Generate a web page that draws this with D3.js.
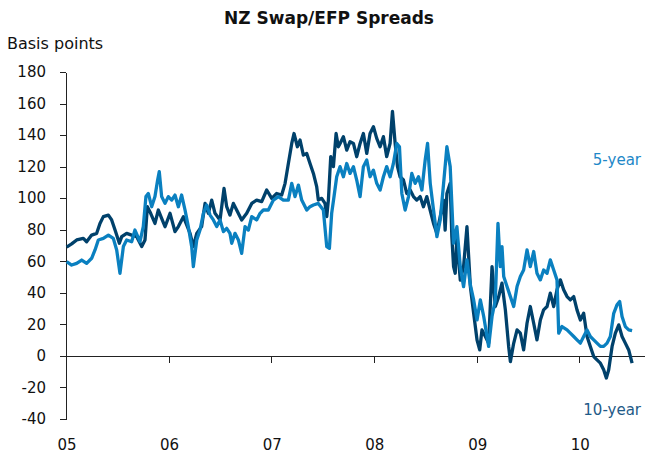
<!DOCTYPE html>
<html>
<head>
<meta charset="utf-8">
<script src="https://cdn.jsdelivr.net/npm/d3@7"></script>
<style>
    body { margin: 0; background: #fff; }
    text { font-family: "DejaVu Sans", sans-serif; fill: #111; }
    .axis path, .axis line { stroke: #222; shape-rendering: crispEdges; }
</style>
</head>
<body>
<script>
// decimal year, basis points
var tenYear = [
    [2005.006, 69], [2005.055, 71], [2005.104, 73.5], [2005.169, 74.5], [2005.201, 72.4], [2005.250, 76.6],
    [2005.299, 77.7], [2005.331, 84], [2005.364, 88.3], [2005.413, 89.3], [2005.445, 86.2], [2005.478, 79.8],
    [2005.520, 71.4], [2005.543, 75.6], [2005.591, 77.7], [2005.640, 76.6], [2005.689, 75.6], [2005.738, 69.3],
    [2005.770, 73.5], [2005.793, 94.6], [2005.825, 90.4], [2005.867, 84], [2005.900, 92.5], [2005.932, 87.2],
    [2005.965, 81.9], [2006.014, 90.4], [2006.062, 78.8], [2006.095, 82], [2006.144, 88.3], [2006.209, 77.7],
    [2006.241, 69.3], [2006.274, 77.7], [2006.322, 82], [2006.355, 96.7], [2006.387, 90.4], [2006.420, 98.8],
    [2006.452, 90.4], [2006.501, 86.2], [2006.540, 106.2], [2006.566, 94.6], [2006.598, 89.3], [2006.631, 96.7],
    [2006.663, 92.5], [2006.712, 86.2], [2006.761, 90.4], [2006.810, 96.7], [2006.858, 98.8], [2006.907, 97.8],
    [2006.956, 105.2], [2007.005, 99.9], [2007.053, 103], [2007.102, 102], [2007.135, 109.4], [2007.167, 122],
    [2007.200, 134.7], [2007.222, 141], [2007.255, 132.6], [2007.281, 136.9], [2007.313, 127.3], [2007.346, 128.4],
    [2007.378, 122], [2007.411, 115.7], [2007.443, 107.3], [2007.459, 98.8], [2007.492, 99.9], [2007.524, 96.7],
    [2007.541, 88.3], [2007.557, 98.8], [2007.580, 126.3], [2007.606, 120], [2007.632, 141], [2007.654, 132.6],
    [2007.671, 134.7], [2007.703, 139], [2007.736, 130.5], [2007.768, 135.8], [2007.801, 134.7], [2007.833, 126.3],
    [2007.866, 134.7], [2007.898, 141], [2007.931, 128.4], [2007.963, 141], [2007.996, 145.3], [2008.028, 137.9],
    [2008.061, 132.6], [2008.093, 139], [2008.125, 126.3], [2008.158, 134.7], [2008.181, 155], [2008.207, 134.7],
    [2008.230, 120], [2008.255, 113.6], [2008.288, 111.5], [2008.320, 103], [2008.353, 105.2], [2008.385, 101],
    [2008.417, 98.8], [2008.450, 101], [2008.482, 94.6], [2008.515, 101], [2008.547, 92.5], [2008.580, 84],
    [2008.612, 77.7], [2008.645, 88.3], [2008.677, 98.8], [2008.693, 79.8], [2008.710, 103], [2008.742, 109.4],
    [2008.758, 75.6], [2008.775, 56.6], [2008.791, 52.4], [2008.807, 75.6], [2008.840, 48.1], [2008.872, 56.6],
    [2008.905, 81.9], [2008.938, 44], [2008.970, 27], [2009.003, 10], [2009.029, 3.8], [2009.051, 16.5],
    [2009.084, 12.3], [2009.116, 8], [2009.149, 56.6], [2009.181, 31.3], [2009.214, 37.6], [2009.246, 46.1],
    [2009.279, 29.2], [2009.311, 6], [2009.328, -3.6], [2009.360, 8], [2009.393, 16.5], [2009.425, 14.4],
    [2009.457, 3.8], [2009.490, 20.7], [2009.522, 31.3], [2009.555, 20.7], [2009.587, 10.2], [2009.620, 22.8],
    [2009.652, 29.2], [2009.685, 31.3], [2009.717, 39.8], [2009.750, 31.3], [2009.782, 41.9], [2009.815, 48.2],
    [2009.847, 41.9], [2009.880, 37.6], [2009.912, 35.5], [2009.945, 37.6], [2009.977, 29.2], [2010.010, 22.8],
    [2010.042, 27], [2010.075, 12.3], [2010.107, 6], [2010.140, -0.4], [2010.172, -2.5], [2010.205, -4.6],
    [2010.237, -8.8], [2010.263, -14], [2010.286, -8.8], [2010.319, 6], [2010.351, 14.4], [2010.384, 19.7],
    [2010.416, 12.3], [2010.448, 8.1], [2010.481, 3.8], [2010.514, -4.6]
];

var fiveYear = [
    [2005.006, 59.8], [2005.055, 57.6], [2005.104, 58.7], [2005.153, 60.8], [2005.201, 58.7], [2005.250, 61.9],
    [2005.283, 67.2], [2005.315, 73.5], [2005.364, 74.5], [2005.413, 76.6], [2005.461, 74.5], [2005.494, 67.2],
    [2005.526, 52.4], [2005.559, 69.3], [2005.591, 73.5], [2005.640, 72.4], [2005.672, 79.8], [2005.721, 72.4],
    [2005.753, 82], [2005.779, 101], [2005.802, 103], [2005.835, 94.6], [2005.867, 101], [2005.893, 111.5],
    [2005.909, 116.8], [2005.932, 101], [2005.965, 96.7], [2005.997, 101], [2006.030, 98.8], [2006.062, 102],
    [2006.095, 94.6], [2006.127, 102], [2006.160, 92.5], [2006.192, 82], [2006.225, 69.3], [2006.241, 56.6],
    [2006.274, 73.5], [2006.306, 79.8], [2006.339, 90.4], [2006.371, 95.7], [2006.404, 89.3], [2006.436, 86.2],
    [2006.469, 82], [2006.501, 86.2], [2006.534, 78.8], [2006.566, 80.9], [2006.598, 77.7], [2006.615, 71.4],
    [2006.647, 77.7], [2006.680, 73.5], [2006.712, 65], [2006.745, 82], [2006.777, 79.8], [2006.810, 88.3],
    [2006.858, 86.2], [2006.891, 90.4], [2006.923, 92.5], [2006.972, 92.5], [2007.021, 98.8], [2007.070, 101],
    [2007.118, 98.8], [2007.167, 98.8], [2007.200, 109.4], [2007.232, 101], [2007.265, 108.3], [2007.297, 98.8],
    [2007.346, 92.5], [2007.378, 94.6], [2007.411, 95.7], [2007.459, 96.7], [2007.508, 92.5], [2007.541, 69.3],
    [2007.567, 68.2], [2007.589, 90.4], [2007.612, 101], [2007.638, 113.6], [2007.671, 120], [2007.703, 113.6],
    [2007.736, 122], [2007.768, 115.7], [2007.801, 120], [2007.833, 111.5], [2007.866, 101], [2007.898, 120],
    [2007.931, 124.2], [2007.963, 113.6], [2007.996, 117.8], [2008.028, 109.4], [2008.061, 105.2], [2008.093, 113.6],
    [2008.125, 120], [2008.158, 113.6], [2008.190, 122], [2008.223, 134.7], [2008.249, 132.6], [2008.272, 103],
    [2008.304, 92.5], [2008.337, 101], [2008.369, 115.7], [2008.402, 109.4], [2008.434, 113.6], [2008.467, 105.2],
    [2008.499, 124.2], [2008.522, 134.7], [2008.548, 109.4], [2008.580, 92.5], [2008.613, 75.6], [2008.645, 86.2],
    [2008.678, 109.4], [2008.710, 132.6], [2008.742, 120], [2008.775, 71.4], [2008.807, 81.9], [2008.840, 56.6],
    [2008.872, 43.9], [2008.905, 60.8], [2008.938, 45], [2008.970, 35.5], [2009.003, 22.8], [2009.035, 35.5],
    [2009.068, 25], [2009.116, 6], [2009.149, 25], [2009.181, 35.5], [2009.207, 84], [2009.230, 56.6],
    [2009.246, 69.3], [2009.263, 50.3], [2009.295, 44], [2009.328, 37.6], [2009.360, 31.3], [2009.393, 44],
    [2009.425, 50.3], [2009.457, 54.5], [2009.490, 67.2], [2009.522, 56.6], [2009.555, 66.2], [2009.587, 52.4],
    [2009.620, 48.2], [2009.652, 54.5], [2009.685, 52.4], [2009.717, 60.9], [2009.750, 54.5], [2009.782, 48.2],
    [2009.799, 14.4], [2009.831, 18.6], [2009.880, 16.5], [2009.912, 14.4], [2009.945, 12.3], [2009.977, 10.2],
    [2010.010, 8.1], [2010.042, 12.3], [2010.075, 16.5], [2010.107, 12.3], [2010.140, 10.2], [2010.172, 8.1],
    [2010.205, 6], [2010.237, 6], [2010.270, 8.1], [2010.302, 12.3], [2010.335, 27], [2010.367, 32.4],
    [2010.393, 34.5], [2010.416, 25], [2010.448, 18.6], [2010.481, 16.5], [2010.514, 16]
];

var yearTicks = [2005, 2006, 2007, 2008, 2009, 2010];
var yTicks = [-40, -20, 0, 20, 40, 60, 80, 100, 120, 140, 160, 180];

var w = 648, h = 455;

function toDate(t) {
    var yr = Math.floor(t);
    var start = new Date(yr, 0, 1), end = new Date(yr + 1, 0, 1);
    return new Date(+start + (t - yr) * (end - start));
}

var svg = d3.select("body").append("svg")
    .attr("width", w)
    .attr("height", h);

var x = d3.scaleTime().domain([toDate(2005), toDate(2010.63)]).range([66, 644]);
var y = d3.scaleLinear().domain([-40, 180]).range([419, 72]);

//Title and unit
svg.append("text")
    .attr("x", 329).attr("y", 24)
    .attr("text-anchor", "middle")
    .style("font-size", "17px").style("font-weight", "bold")
    .text("NZ Swap/EFP Spreads");

svg.append("text")
    .attr("x", 7).attr("y", 49)
    .style("font-size", "16px")
    .text("Basis points");

//Y axis (plain hyphen for negatives, as in the source)
var yAxis = d3.axisLeft(y).tickValues(yTicks).tickSize(6).tickSizeOuter(0).tickPadding(14)
    .tickFormat(function(d) { return String(d); });
var yg = svg.append("g").attr("class", "axis")
    .attr("transform", "translate(66,0)")
    .call(yAxis);
yg.selectAll("text").style("font-size", "15px").attr("fill", "#111");

//Zero line with year ticks
var zeroAxis = d3.axisBottom(x)
    .tickValues(yearTicks.slice(1).map(toDate))
    .tickSize(7).tickSizeOuter(0).tickFormat("");
svg.append("g").attr("class", "axis")
    .attr("transform", "translate(0," + y(0) + ")")
    .call(zeroAxis);

//Year labels along the bottom
svg.append("g")
    .selectAll("text")
    .data(yearTicks)
    .enter()
    .append("text")
    .attr("x", function(d) { return x(toDate(d)) + 1; })
    .attr("y", 450)
    .attr("text-anchor", "middle")
    .style("font-size", "15px")
    .text(function(d) { return d3.format("02")(d % 100); });

//Lines
var line = d3.line()
    .x(function(d) { return x(toDate(d[0])); })
    .y(function(d) { return y(d[1]); });

svg.append("path")
    .datum(tenYear)
    .attr("fill", "none")
    .attr("stroke", "#00416b")
    .attr("stroke-width", 3.3)
    .attr("stroke-linejoin", "round")
    .attr("d", line);

svg.append("path")
    .datum(fiveYear)
    .attr("fill", "none")
    .attr("stroke", "#0a80c0")
    .attr("stroke-width", 3.3)
    .attr("stroke-linejoin", "round")
    .attr("d", line);

//Series labels
svg.append("text")
    .attr("x", 641).attr("y", 165)
    .attr("text-anchor", "end")
    .style("font-size", "15px")
    .style("fill", "#1e88c8")
    .text("5-year");

svg.append("text")
    .attr("x", 641).attr("y", 415)
    .attr("text-anchor", "end")
    .style("font-size", "15px")
    .style("fill", "#1f5b88")
    .text("10-year");
</script>
</body>
</html>
